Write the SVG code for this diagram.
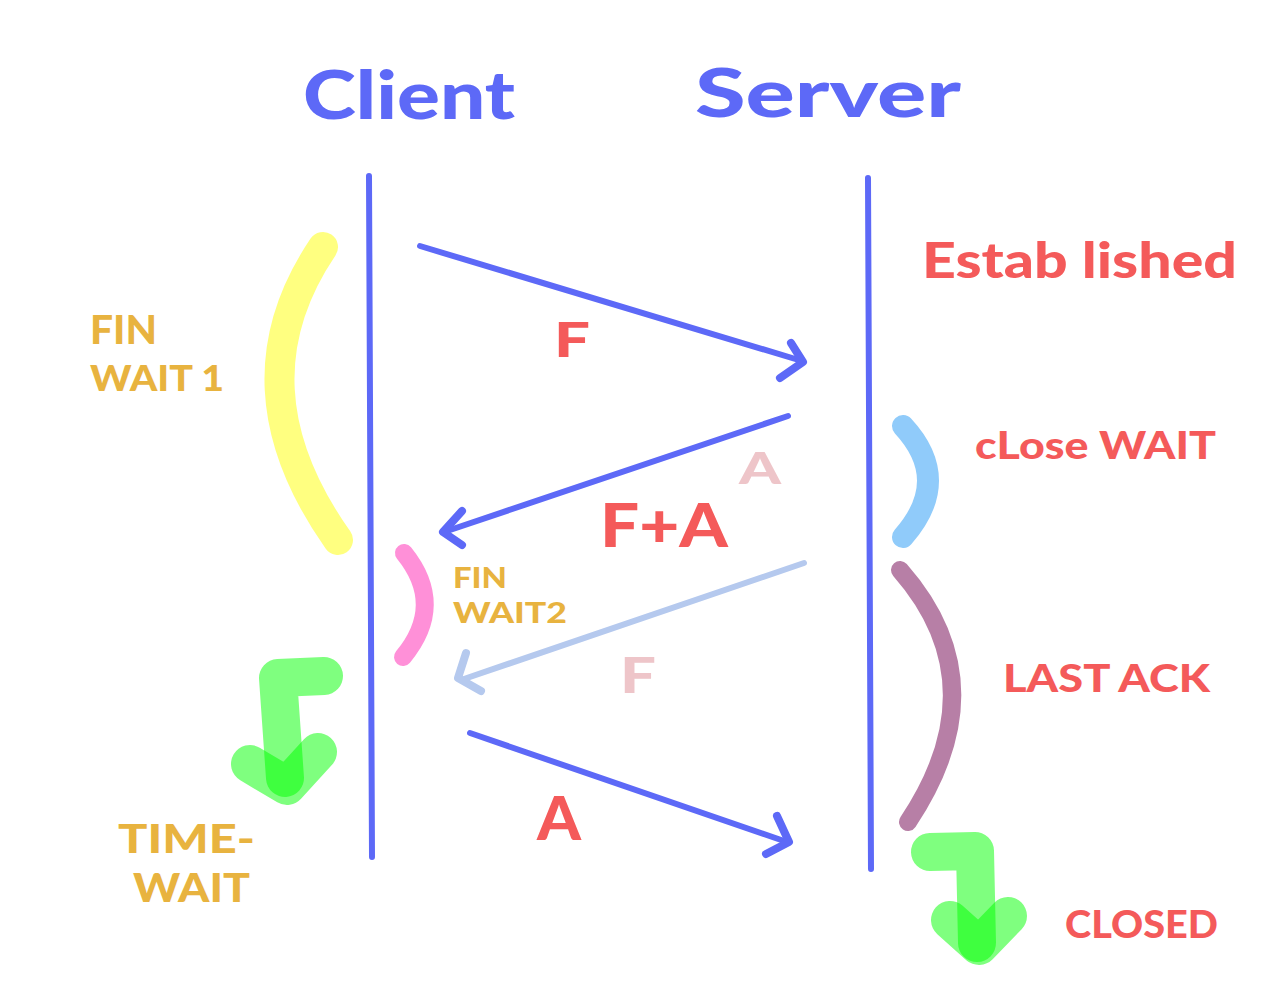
<svg xmlns="http://www.w3.org/2000/svg" width="1281" height="1000" viewBox="0 0 1281 1000">
<style>
.t{font-family:"Lato","Noto Sans","DejaVu Sans",sans-serif;font-weight:900;}
.blue{fill:#5d69f7;}
.red{fill:#f45a5a;}
.gold{fill:#e8b33f;}
.pale{fill:#eec5c9;}
.line{fill:none;stroke-linecap:round;stroke-linejoin:round;}
.msg{stroke:#5d69f7;stroke-width:6;}
.head{stroke-width:8;}
.life{stroke:#5d69f7;stroke-width:6;}
.arc{fill:none;stroke-linecap:round;}
.g{fill:none;stroke:#00ff00;stroke-opacity:0.5;stroke-width:38;stroke-linecap:round;stroke-linejoin:round;}
</style>
<rect width="1281" height="1000" fill="#ffffff"/>
<g id="client">
<text class="t blue" x="303" y="119" font-size="66" textLength="212" lengthAdjust="spacingAndGlyphs">Client</text>
<line class="line life" x1="369" y1="176" x2="372" y2="857"/>
</g>
<g id="server">
<text class="t blue" x="695" y="117" font-size="66" textLength="266" lengthAdjust="spacingAndGlyphs">Server</text>
<line class="line life" x1="868" y1="178" x2="871" y2="869"/>
</g>
<g id="state-established">
<text class="t red" x="922" y="278" font-size="50" textLength="315" lengthAdjust="spacingAndGlyphs">Estab lished</text>
</g>
<g id="state-finwait1">
<path class="arc" d="M323,247 Q229,386 338,540" stroke="#ffff80" stroke-width="30"/>
<text class="t gold" x="90" y="344" font-size="40" textLength="67" lengthAdjust="spacingAndGlyphs">FIN</text>
<text class="t gold" x="90" y="391" font-size="36" textLength="134" lengthAdjust="spacingAndGlyphs">WAIT 1</text>
</g>
<g id="state-finwait2">
<path class="arc" d="M404,553 Q446,605 403,657" stroke="#ff90d8" stroke-width="18"/>
<text class="t gold" x="453" y="588" font-size="28" textLength="54" lengthAdjust="spacingAndGlyphs">FIN</text>
<text class="t gold" x="453" y="623" font-size="28" textLength="114" lengthAdjust="spacingAndGlyphs">WAIT2</text>
</g>
<g id="state-timewait">
<path class="g" d="M324,676 L278,678 L285,778"/>
<path class="g" d="M250,764 L287,786 L318,752"/>
<text class="t gold" x="118" y="853" font-size="40" textLength="137" lengthAdjust="spacingAndGlyphs">TIME-</text>
<text class="t gold" x="133" y="902" font-size="40" textLength="117" lengthAdjust="spacingAndGlyphs">WAIT</text>
</g>
<g id="state-closewait">
<path class="arc" d="M903,426 Q953,480 903,537" stroke="#90cbfa" stroke-width="22"/>
<text class="t red" x="975" y="459" font-size="38" textLength="241" lengthAdjust="spacingAndGlyphs">cLose WAIT</text>
</g>
<g id="state-lastack">
<path class="arc" d="M900,570 Q1000,684 908,822" stroke="#b77fa6" stroke-width="18"/>
<text class="t red" x="1003" y="692" font-size="38" textLength="207" lengthAdjust="spacingAndGlyphs">LAST  ACK</text>
</g>
<g id="state-closed">
<path class="g" d="M930,852 L975,851 L977,943"/>
<path class="g" d="M950,920 L979,946 L1008,916"/>
<text class="t red" x="1065" y="938" font-size="38" textLength="153" lengthAdjust="spacingAndGlyphs">CLOSED</text>
</g>
<g id="connectors">
<path class="line msg" d="M420,246 L802,361"/>
<path class="line msg head" d="M791,343 L803,362 L780,378"/>
<path class="line msg" d="M788,416 L444,532"/>
<path class="line msg head" d="M462,511 L443,532 L462,545"/>
<path class="line" stroke="#b5c9ee" stroke-width="6" d="M804,563 L461,680"/>
<path class="line head" stroke="#b5c9ee" d="M466,653 L458,678 L481,691"/>
<path class="line msg" d="M470,733 L787,842"/>
<path class="line msg head" d="M777,816 L789,842 L766,854"/>
</g>
<g id="labels">
<text class="t red" x="554" y="357" font-size="48" textLength="36" lengthAdjust="spacingAndGlyphs">F</text>
<text class="t red" x="600" y="547" font-size="60" textLength="128" lengthAdjust="spacingAndGlyphs">F+A</text>
<text class="t pale" x="739" y="484" font-size="44" textLength="42" lengthAdjust="spacingAndGlyphs">A</text>
<text class="t pale" x="620" y="693" font-size="50" textLength="36" lengthAdjust="spacingAndGlyphs">F</text>
<text class="t red" x="537" y="840" font-size="60" textLength="44" lengthAdjust="spacingAndGlyphs">A</text>
</g>
</svg>
